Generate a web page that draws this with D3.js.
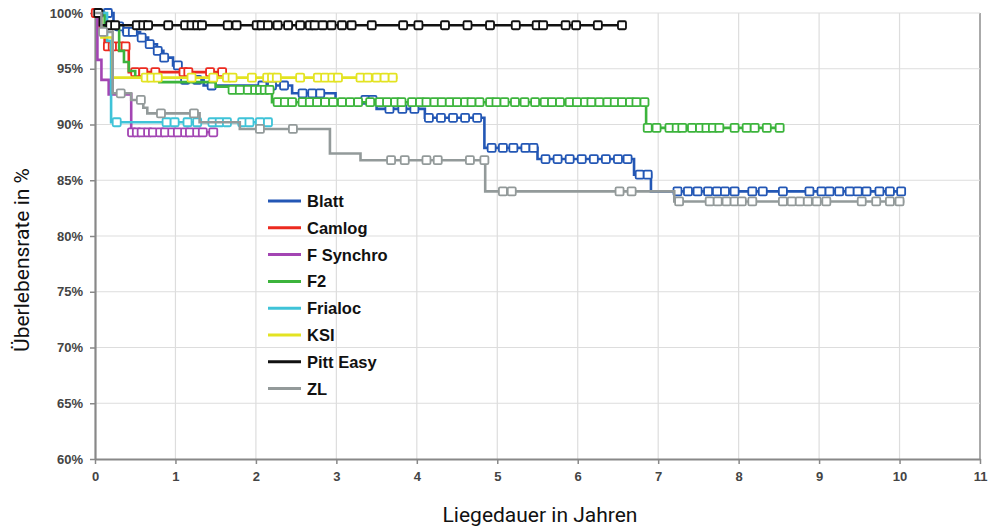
<!DOCTYPE html>
<html>
<head>
<meta charset="utf-8">
<title>Überlebensrate</title>
<script src="https://cdn.jsdelivr.net/npm/d3@7"></script>
<style>
  body { margin: 0; background: #fff; }
  svg { display: block; }
  .tick text { font-family: "Liberation Sans", Arial, sans-serif; font-weight: bold; font-size: 13px; fill: #444; }
  .legend text { font-family: "Liberation Sans", Arial, sans-serif; font-weight: bold; font-size: 16.5px; fill: #111; }
  .title { font-family: Roboto, "Liberation Sans", sans-serif; font-size: 21px; fill: #111; }
</style>
</head>
<body>
<svg id="chart" width="995" height="526"></svg>
<script>
// Kaplan-Meier Kurven: [Zeit in Jahren, Überlebensrate %], Zensierungen als Zeiten
var blattSteps = [[0,100],[0.23,98.8],[0.35,98.3],[0.56,97.8],[0.66,97.2],[0.77,96.6],[0.85,96.0],[0.97,95.3],[1.06,94.6],[1.11,94.0],[1.35,93.5],[2.45,92.8],[2.99,92.2],[3.5,91.4],[4.1,90.6],[4.84,87.9],[5.5,86.9],[6.7,85.5],[6.91,84.0]];
var blattEnd = 10.06;
var blattCensor = [0.16,0.3,0.4,0.47,0.58,0.68,0.78,0.86,1.03,1.12,1.27,1.45,2.08,2.2,2.35,2.58,2.7,2.8,3.36,3.45,3.66,3.82,3.97,4.15,4.3,4.45,4.6,4.75,4.93,5.07,5.2,5.35,5.45,5.6,5.75,5.9,6.05,6.2,6.35,6.5,6.62,6.77,6.87,7.24,7.37,7.49,7.62,7.73,7.83,7.95,8.17,8.3,8.55,8.88,9.03,9.13,9.25,9.38,9.48,9.59,9.75,9.88,10.02];

var camlogSteps = [[0,100],[0.06,98.5],[0.12,97.0],[0.42,94.7]];
var camlogEnd = 1.6;
var camlogCensor = [0.01,0.16,0.22,0.31,0.38,0.5,0.6,0.75,1.1,1.16,1.43,1.58];

var synchroSteps = [[0,100],[0.03,95.8],[0.08,94.0],[0.17,92.7],[0.45,89.3]];
var synchroEnd = 1.5;
var synchroCensor = [0.46,0.52,0.58,0.66,0.72,0.81,0.87,0.96,1.03,1.12,1.18,1.27,1.34,1.47];

var f2Steps = [[0,100],[0.12,98.8],[0.3,96.6],[0.36,95.6],[0.42,94.8],[0.5,94.2],[0.8,93.8],[1.5,93.4],[1.68,93.1],[2.2,92.0],[6.85,89.7]];
var f2End = 8.53;
var f2Censor = [1.71,1.8,1.9,1.99,2.05,2.11,2.17,2.27,2.36,2.45,2.58,2.67,2.76,2.86,2.96,3.07,3.17,3.27,3.42,3.54,3.63,3.73,3.81,3.94,4.04,4.12,4.22,4.31,4.41,4.5,4.6,4.68,4.78,4.91,4.99,5.09,5.22,5.34,5.47,5.59,5.68,5.78,5.9,5.99,6.09,6.17,6.27,6.37,6.46,6.55,6.65,6.73,6.83,6.87,6.98,7.14,7.23,7.3,7.42,7.52,7.6,7.68,7.76,7.95,8.1,8.2,8.35,8.51];

var frialocSteps = [[0,100],[0.15,97.5],[0.2,90.2]];
var frialocEnd = 2.17;
var frialocCensor = [0.27,0.89,0.99,1.15,1.27,1.46,1.55,1.64,1.83,1.92,2.05,2.15];

var ksiSteps = [[0,100],[0.08,97.8],[0.22,94.2]];
var ksiEnd = 3.76;
var ksiCensor = [0.63,0.7,0.78,1.2,1.47,1.64,1.71,1.95,2.14,2.2,2.26,2.55,2.77,2.86,2.95,3.02,3.3,3.39,3.5,3.6,3.7];

var pittSteps = [[0,100],[0.06,98.9]];
var pittEnd = 6.57;
var pittCensor = [0.04,0.19,0.25,0.52,0.6,0.66,0.91,1.12,1.2,1.27,1.33,1.65,1.76,2.01,2.07,2.15,2.27,2.4,2.55,2.67,2.73,2.83,2.94,3.07,3.19,3.44,3.83,4.02,4.35,4.63,4.91,5.23,5.49,5.57,5.85,5.98,6.25,6.55];

var zlSteps = [[0,100],[0.08,98.3],[0.22,92.8],[0.45,92.2],[0.6,91.5],[0.65,91.0],[1.3,90.2],[1.8,89.6],[2.92,87.4],[3.3,86.8],[4.85,84.0],[7.2,83.1]];
var zlEnd = 10.06;
var zlCensor = [0.1,0.32,0.57,0.82,1.23,2.05,2.46,3.68,3.85,4.12,4.26,4.66,4.84,5.07,5.18,6.52,6.67,7.26,7.64,7.74,7.85,7.95,8.04,8.17,8.55,8.66,8.76,8.86,8.97,9.09,9.53,9.71,9.88,10.0];

var names = ["Blatt","Camlog","F Synchro","F2","Frialoc","KSI","Pitt Easy","ZL"];
var colors = ["#2357b5","#ec2a1f","#a345b3","#3cb43c","#3fc3d8","#e3e322","#111111","#939a9a"];
var xTicks = d3.range(0, 12);
var yTicks = [60,65,70,75,80,85,90,95,100];

var series = [
  {steps: blattSteps, end: blattEnd, censor: blattCensor},
  {steps: camlogSteps, end: camlogEnd, censor: camlogCensor},
  {steps: synchroSteps, end: synchroEnd, censor: synchroCensor},
  {steps: f2Steps, end: f2End, censor: f2Censor},
  {steps: frialocSteps, end: frialocEnd, censor: frialocCensor},
  {steps: ksiSteps, end: ksiEnd, censor: ksiCensor},
  {steps: pittSteps, end: pittEnd, censor: pittCensor},
  {steps: zlSteps, end: zlEnd, censor: zlCensor}
].map(function(s, i) { s.name = names[i]; s.color = colors[i]; return s; });

var svg = d3.select("#chart");
var x = d3.scaleLinear().domain([0, 11]).range([95, 980]);
var y = d3.scaleLinear().domain([60, 100]).range([459, 13]);

// Gitter
svg.append("g").selectAll("line").data(xTicks.slice(1)).join("line")
  .attr("x1", d => x(d)).attr("x2", d => x(d)).attr("y1", y(100)).attr("y2", y(60))
  .attr("stroke", d => d === 11 ? "#aaa" : "#ddd").attr("stroke-width", d => d === 11 ? 2 : 1.2);
svg.append("g").selectAll("line").data(yTicks.slice(1)).join("line")
  .attr("x1", x(0)).attr("x2", x(11)).attr("y1", d => y(d)).attr("y2", d => y(d))
  .attr("stroke", "#ddd").attr("stroke-width", 1.2);

// Achsen
var xAxis = svg.append("g").attr("transform", "translate(0," + y(60) + ")")
  .call(d3.axisBottom(x).tickValues(xTicks).tickSize(5).tickPadding(8).tickSizeOuter(0));
var yAxis = svg.append("g").attr("transform", "translate(" + x(0) + ",0)")
  .call(d3.axisLeft(y).tickValues(yTicks).tickSize(5).tickPadding(7).tickSizeOuter(0).tickFormat(d => d + "%"));
[xAxis, yAxis].forEach(function(a) {
  a.select(".domain").attr("stroke", "#888").attr("stroke-width", 2.2);
  a.selectAll(".tick line").attr("stroke", "#888").attr("stroke-width", 1.5);
});

function survivalAt(steps, t) {
  var v = steps[0][1];
  steps.forEach(function(p) { if (p[0] <= t) v = p[1]; });
  return v;
}

var line = d3.line().x(d => x(d[0])).y(d => y(d[1])).curve(d3.curveStepAfter);

var plot = svg.append("g");
series.forEach(function(s) {
  var pts = s.steps.concat([[s.end, s.steps[s.steps.length - 1][1]]]);
  var g = plot.append("g");
  g.append("path").datum(pts).attr("d", line)
    .attr("fill", "none").attr("stroke", s.color).attr("stroke-width", 2.6);
  g.selectAll("rect").data(s.censor).join("rect")
    .attr("x", d => x(d) - 4).attr("y", d => y(survivalAt(s.steps, d)) - 4)
    .attr("width", 8).attr("height", 8).attr("rx", 1.2)
    .attr("fill", "#fff").attr("stroke", s.color).attr("stroke-width", 1.8);
});

// Legende
var legend = svg.append("g").attr("class", "legend");
var items = legend.selectAll("g").data(series).join("g")
  .attr("transform", (d, i) => "translate(268," + (201 + i * 26.8) + ")");
items.append("line").attr("x1", 0).attr("x2", 33).attr("y1", 0).attr("y2", 0)
  .attr("stroke", d => d.color).attr("stroke-width", 3);
items.append("text").attr("x", 39).attr("y", 6).text(d => d.name);

// Titel
svg.append("text").attr("class", "title").attr("x", 540).attr("y", 522)
  .attr("text-anchor", "middle").text("Liegedauer in Jahren");
svg.append("text").attr("class", "title")
  .attr("transform", "translate(29,260) rotate(-90)")
  .attr("text-anchor", "middle").text("Überlebensrate in %");
</script>
</body>
</html>
